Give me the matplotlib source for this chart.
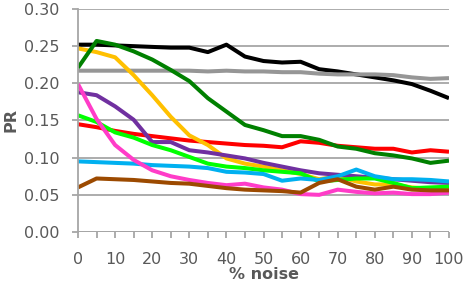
import numpy as np
import matplotlib.pyplot as plt

noise = [0, 5, 10, 15, 20, 25, 30, 35, 40, 45, 50, 55, 60, 65, 70, 75, 80, 85, 90, 95, 100]

black = [0.252, 0.252, 0.251, 0.250, 0.249, 0.248, 0.248, 0.242, 0.252, 0.236, 0.230, 0.228, 0.229,
         0.219, 0.216, 0.212, 0.208, 0.204, 0.199, 0.190, 0.180]
red = [0.145, 0.141, 0.136, 0.132, 0.129, 0.126, 0.123, 0.121, 0.119, 0.117, 0.116, 0.114, 0.122,
       0.120, 0.116, 0.114, 0.112, 0.112, 0.107, 0.110, 0.108]
gray = [0.217, 0.217, 0.217, 0.217, 0.217, 0.217, 0.217, 0.216, 0.217, 0.216, 0.216, 0.215, 0.215,
        0.213, 0.212, 0.212, 0.212, 0.211, 0.208, 0.206, 0.207]
orange = [0.247, 0.242, 0.235, 0.211, 0.184, 0.155, 0.130, 0.117, 0.099, 0.092, 0.088, 0.083, 0.078,
          0.071, 0.075, 0.068, 0.064, 0.064, 0.060, 0.058, 0.058]
purple = [0.188, 0.184, 0.169, 0.151, 0.121, 0.121, 0.110, 0.107, 0.103, 0.099, 0.093, 0.088, 0.083,
          0.079, 0.077, 0.075, 0.073, 0.071, 0.069, 0.067, 0.066]
lime = [0.157, 0.148, 0.134, 0.127, 0.117, 0.110, 0.101, 0.092, 0.088, 0.086, 0.083, 0.081, 0.079,
        0.068, 0.070, 0.072, 0.072, 0.066, 0.059, 0.060, 0.061]
cyan = [0.095, 0.094, 0.093, 0.092, 0.090, 0.089, 0.088, 0.086, 0.081, 0.080, 0.078, 0.069, 0.072,
        0.070, 0.075, 0.084, 0.075, 0.071, 0.071, 0.070, 0.068]
pink = [0.199, 0.152, 0.117, 0.097, 0.083, 0.075, 0.070, 0.066, 0.063, 0.065, 0.060, 0.057, 0.051,
        0.050, 0.057, 0.054, 0.052, 0.053, 0.051, 0.051, 0.053]
brown = [0.060, 0.072, 0.071, 0.070, 0.068, 0.066, 0.065, 0.062, 0.059, 0.057, 0.056, 0.055, 0.053,
         0.066, 0.071, 0.061, 0.057, 0.061, 0.057, 0.056, 0.056]
green = [0.221, 0.257, 0.252, 0.243, 0.232, 0.218, 0.203, 0.180, 0.162, 0.144, 0.137, 0.129, 0.129,
         0.124, 0.115, 0.112, 0.106, 0.103, 0.099, 0.093, 0.096]

series = [
    (black, '#000000'),
    (red, '#ff0000'),
    (gray, '#969696'),
    (orange, '#ffc000'),
    (purple, '#7030a0'),
    (lime, '#00ff00'),
    (cyan, '#00b0f0'),
    (pink, '#ff3cc8'),
    (brown, '#9c4a00'),
    (green, '#008000'),
]

txt = '#595959'
grid = '#a6a6a6'

fig = plt.figure(figsize=(4.68, 2.88), dpi=100)
ax = fig.add_axes([0.1667, 0.1944, 0.7927, 0.7744])

for vals, col in series:
    ax.plot(noise, vals, color=col, lw=2.9, solid_joinstyle='round', solid_capstyle='butt')

ax.set_xlim(0, 100)
ax.set_ylim(0, 0.30)
ax.set_xticks(np.arange(0, 101, 10))
ax.set_xticks(np.arange(0, 101, 5), minor=True)
ax.set_yticks(np.arange(0, 0.301, 0.05))
ax.set_yticklabels(['%.2f' % v for v in np.arange(0, 0.301, 0.05)])

ax.yaxis.grid(True, color=grid, lw=1.3)
ax.set_axisbelow(True)
for s in ['top', 'right', 'bottom']:
    ax.spines[s].set_visible(False)
ax.spines['left'].set_color(grid)
ax.spines['left'].set_linewidth(1.3)
ax.axhline(0, color=grid, lw=1.3, zorder=0.5)

ax.tick_params(axis='y', length=4.5, width=1.3, color=grid, labelcolor=txt, labelsize=11.5, pad=9)
ax.tick_params(axis='x', which='both', length=4.5, width=1.3, color=grid, labelcolor=txt,
               labelsize=11.5, pad=10)
ax.tick_params(axis='x', which='minor', labelbottom=False)

ax.set_xlabel('% noise', color=txt, fontsize=11.5, fontweight='bold', labelpad=0)
ax.set_ylabel('PR', color=txt, fontsize=11.5, fontweight='bold', labelpad=4)

fig.savefig('out.png', dpi=100)
